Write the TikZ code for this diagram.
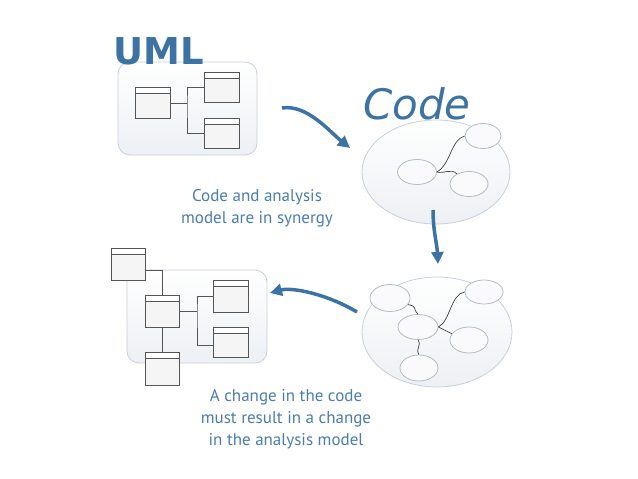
\documentclass[tikz,border=0pt]{standalone}
\usepackage{fontspec}
\usepackage{tikz}
\usetikzlibrary{positioning, shapes.geometric, arrows.meta, calc}
\newfontfamily\titlefont{DejaVu Sans}
\newfontfamily\notefont{PT Sans}
\definecolor{umlblue}{HTML}{3D72A4}
\definecolor{noteblue}{HTML}{4A7DB0}
\definecolor{panelline}{HTML}{C6D1DD}
\definecolor{panelfill}{HTML}{EDF0F4}
\definecolor{classline}{HTML}{555555}

\tikzset{
  panel/.style={draw=panelline, line width=0.8pt, rounded corners=12pt,
    top color=white, bottom color=panelfill, inner sep=0pt},
  classbox/.style={draw=classline, line width=1pt, fill=black!4,
    minimum width=35pt, minimum height=31pt, inner sep=0pt,
    path picture={
      \fill[white] (path picture bounding box.north west)
        rectangle ([yshift=-6pt]path picture bounding box.north east);
      \draw[classline, line width=0.8pt]
        ([yshift=-6pt]path picture bounding box.north west)
        -- ([yshift=-6pt]path picture bounding box.north east);}},
  assoc/.style={draw=classline, line width=1pt},
  bigblob/.style={ellipse, draw=panelline, line width=0.8pt,
    top color=white, bottom color=panelfill, inner sep=0pt},
  blob/.style={ellipse, draw=panelline!90!black, line width=0.8pt,
    fill=white!70!panelfill, inner sep=0pt},
  wire/.style={draw=black!75, line width=0.7pt},
  flow/.style={draw=umlblue, line width=3.5pt,
    -{Triangle[length=12pt, width=12pt]}},
  note/.style={text=noteblue, align=center, font=\notefont\fontsize{17}{22}\selectfont},
}

\begin{document}
\begin{tikzpicture}[x=1pt, y=-1pt]
\useasboundingbox[fill=white] (0,0) rectangle (638,479);

% first model
\node[panel, minimum width=139pt, minimum height=93pt] (panel1) at (187.5,108.5) {};
\node[classbox] (ca) at (153,103) {};
\node[classbox, minimum height=30pt] (cb) at (222,87) {};
\node[classbox, minimum height=30pt] (cc) at (222,133) {};
\coordinate (j1) at (187,103);
\draw[assoc] (ca.east) -- (j1);
\draw[assoc] (cb.west) -| (j1) |- (cc.west);
\node[inner sep=0pt, text=umlblue, font=\titlefont\bfseries\fontsize{37}{40}\selectfont] (umltitle) at (158.5,51.5) {UML};

% code, first
\node[bigblob, minimum width=148pt, minimum height=104pt] (code1) at (436,172) {};
\node[blob, minimum width=36pt, minimum height=25pt] (e1) at (483,136) {};
\node[blob, minimum width=39pt, minimum height=25pt] (e2) at (417,172) {};
\node[blob, minimum width=38pt, minimum height=25pt] (e3) at (469,184) {};
\draw[wire] (e2.east) .. controls +(14,-8) and +(-14,4) .. (e1.west);
\draw[wire] (e2.east) .. controls +(8,2) and +(-6,-6) .. (e3.140);
\node[inner sep=0pt, text=umlblue, font=\titlefont\itshape\fontsize{42}{44}\selectfont] (codetitle) at (417,103.5) {Code};

% code, second
\node[bigblob, minimum width=150pt, minimum height=110pt] (code2) at (437,332) {};
\node[blob, minimum width=40pt, minimum height=27pt] (f1) at (390,298) {};
\node[blob, minimum width=40pt, minimum height=25pt] (f2) at (418,327) {};
\node[blob, minimum width=38pt, minimum height=26pt] (f3) at (419,368) {};
\node[blob, minimum width=38pt, minimum height=24pt] (f4) at (484,292) {};
\node[blob, minimum width=38pt, minimum height=26pt] (f5) at (469,340) {};
\draw[wire] (f1.-20) .. controls +(10,2) and +(-6,-6) .. (f2.north);
\draw[wire] (f2.south) .. controls +(4,6) and +(-4,-6) .. (f3.north);
\draw[wire] (f2.east) .. controls +(12,-6) and +(-14,2) .. (f4.west);
\draw[wire] (f2.east) .. controls +(6,4) and +(-6,-4) .. (f5.160);

% second model
\node[panel, minimum width=140pt, minimum height=93pt] (panel2) at (197,316.5) {};
\node[classbox, minimum width=34pt, minimum height=32pt] (cp) at (128,264) {};
\node[classbox, minimum width=34pt, minimum height=32pt] (cq) at (162,311) {};
\node[classbox, minimum width=34pt, minimum height=33pt] (cr) at (162,368.5) {};
\node[classbox, minimum height=32pt] (cs) at (230.5,296) {};
\node[classbox, minimum height=30pt] (ct) at (230.5,342) {};
\coordinate (j2) at (197,311);
\draw[assoc] ([yshift=-6pt]cp.east) -| (cq.north);
\draw[assoc] (cq.south) -- (cr.north);
\draw[assoc] (cq.east) -- (j2);
\draw[assoc] (cs.west) -| (j2) |- ([yshift=-3pt]ct.west);

% arrows
\coordinate (a1s) at (282,108);
\coordinate (a1e) at (350,148);
\draw[flow] (a1s) .. controls +(25,-4) and +(-20,-16) .. (a1e);
\coordinate (a2s) at (433,210);
\coordinate (a2e) at (438,264);
\draw[flow] (a2s) .. controls +(0,20) and +(-1,-20) .. (a2e);
\coordinate (a3s) at (357,312);
\coordinate (a3e) at (270,293);
\draw[flow] (a3s) .. controls +(-30,-18) and +(22,-6) .. (a3e);

% notes
\node[note] (note1) at (257,208) {Code and analysis\\model are in synergy};
\node[note] (note2) at (286,419) {A change in the code\\must result in a change\\in the analysis model};
\end{tikzpicture}
\end{document}
